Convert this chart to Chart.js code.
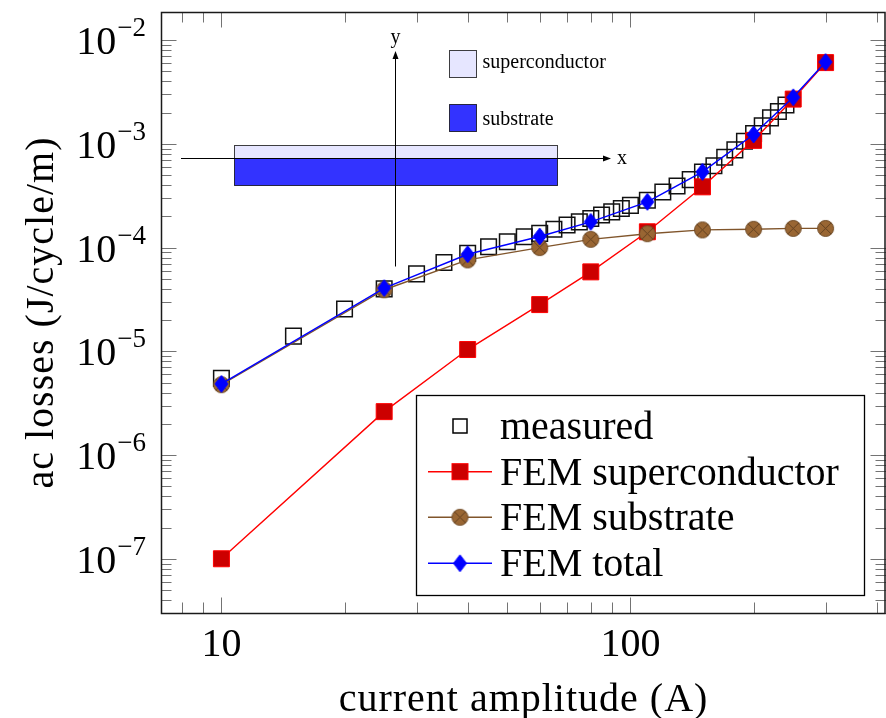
<!DOCTYPE html>
<html>
<head>
<meta charset="utf-8">
<script src="https://cdn.jsdelivr.net/npm/chart.js@4.4.0/dist/chart.umd.min.js"></script>
<style>
  html, body { margin: 0; padding: 0; background: #fff; }
  canvas { display: block; }
</style>
</head>
<body>
<canvas id="lossChart" width="886" height="718"></canvas>
<script>
// ---- data ----
const measuredX = [10, 15, 20, 25, 30, 35, 40, 45, 50, 55, 60, 65, 70, 75, 80, 85, 90, 95, 100,
                   110, 120, 130, 140, 150, 160, 170, 180, 190, 200, 210, 220, 230, 240];
const measuredY = [5.5e-6, 1.4e-5, 2.56e-5, 4.0e-5, 5.58e-5, 7.18e-5, 8.8e-5, 1.02e-4, 1.14e-4, 1.27e-4,
                   1.37e-4, 1.50e-4, 1.65e-4, 1.77e-4, 1.91e-4, 2.06e-4, 2.21e-4, 2.38e-4, 2.55e-4,
                   2.86e-4, 3.44e-4, 3.92e-4, 4.52e-4, 5.36e-4, 6.15e-4, 7.43e-4, 8.75e-4, 1.06e-3,
                   1.26e-3, 1.49e-3, 1.78e-3, 2.05e-3, 2.37e-3];
const femX      = [10, 25, 40, 60, 80, 110, 150, 200, 250, 300];
const femSupY   = [1.0e-7, 2.62e-6, 1.04e-5, 2.82e-5, 5.83e-5, 1.42e-4, 3.85e-4, 1.08e-3, 2.70e-3, 6.07e-3];
const femSubY   = [4.76e-6, 3.92e-5, 7.6e-5, 1.0e-4, 1.20e-4, 1.36e-4, 1.48e-4, 1.50e-4, 1.53e-4, 1.53e-4];
const femTotY   = [4.85e-6, 4.07e-5, 8.63e-5, 1.28e-4, 1.77e-4, 2.76e-4, 5.36e-4, 1.23e-3, 2.81e-3, 6.15e-3];
const xTickVals = [10, 100];
const yTickExps = [-7, -6, -5, -4, -3, -2];
const seriesNames = ['measured', 'FEM superconductor', 'FEM substrate', 'FEM total'];

const FONT = '"Liberation Serif", "Times New Roman", serif';
const pts = (xs, ys) => xs.map((x, i) => ({ x, y: ys[i] }));

// custom marks: crossed circle and tall diamond
function mark(w, h, draw) {
  const c = document.createElement('canvas');
  c.width = w; c.height = h;
  draw(c.getContext('2d'), w, h);
  return c;
}
const otimes = mark(19, 19, (g, w, h) => {
  const r = 8, cx = w / 2, cy = h / 2;
  g.beginPath(); g.arc(cx, cy, r, 0, Math.PI * 2);
  g.fillStyle = '#996633'; g.fill();
  g.strokeStyle = '#6e4a26'; g.lineWidth = 1; g.stroke();
  const d = r * Math.SQRT1_2;
  g.beginPath();
  g.moveTo(cx - d, cy - d); g.lineTo(cx + d, cy + d);
  g.moveTo(cx + d, cy - d); g.lineTo(cx - d, cy + d);
  g.strokeStyle = '#5c3d1e'; g.lineWidth = 0.9; g.stroke();
});
const diamond = mark(15, 19, (g, w, h) => {
  g.beginPath();
  g.moveTo(w / 2, 1); g.lineTo(w - 1, h / 2); g.lineTo(w / 2, h - 1); g.lineTo(1, h / 2);
  g.closePath();
  g.fillStyle = '#0000ff'; g.fill();
  g.strokeStyle = '#0000ff'; g.lineWidth = 1; g.stroke();
});

// inset sketch of the conductor cross-section (top-left of plot)
function drawInset(ctx) {
  ctx.save();
  ctx.lineWidth = 1;
  ctx.strokeStyle = 'rgba(0,0,0,0.75)';
  ctx.fillStyle = '#e6e6ff';
  ctx.fillRect(234.5, 145.5, 323, 13); ctx.strokeRect(234.5, 145.5, 323, 13);
  ctx.fillStyle = '#3333ff';
  ctx.fillRect(234.5, 158.5, 323, 27); ctx.strokeRect(234.5, 158.5, 323, 27);
  // swatches
  ctx.fillStyle = '#e6e6ff';
  ctx.fillRect(449.5, 50.5, 27, 27); ctx.strokeRect(449.5, 50.5, 27, 27);
  ctx.fillStyle = '#3333ff';
  ctx.fillRect(449.5, 104.5, 27, 27); ctx.strokeRect(449.5, 104.5, 27, 27);
  // axes with arrows
  ctx.strokeStyle = '#000';
  ctx.fillStyle = '#000';
  ctx.beginPath();
  ctx.moveTo(181, 158.5); ctx.lineTo(605, 158.5);
  ctx.moveTo(395.5, 266.5); ctx.lineTo(395.5, 57);
  ctx.stroke();
  ctx.beginPath();
  ctx.moveTo(611, 158.5); ctx.lineTo(603, 155.5); ctx.lineTo(603, 161.5); ctx.closePath(); ctx.fill();
  ctx.beginPath();
  ctx.moveTo(395.5, 51); ctx.lineTo(392.5, 59); ctx.lineTo(398.5, 59); ctx.closePath(); ctx.fill();
  ctx.font = '20px ' + FONT;
  ctx.textBaseline = 'alphabetic';
  ctx.textAlign = 'center';
  ctx.fillText('x', 622, 164);
  ctx.fillText('y', 395.5, 43);
  ctx.textAlign = 'left';
  ctx.fillText('superconductor', 482.5, 68);
  ctx.fillText('substrate', 482.5, 125);
  ctx.restore();
}

function drawLegend(ctx) {
  const L = 416.5, T = 395.5, R = 864.5, B = 595.5;
  const rows = [426, 471.7, 517.3, 563.3];
  ctx.save();
  ctx.fillStyle = '#fff';
  ctx.fillRect(L, T, R - L, B - T);
  ctx.strokeStyle = '#000'; ctx.lineWidth = 1.3;
  ctx.strokeRect(L, T, R - L, B - T);
  const lineCol = [null, '#ff0000', '#80552b', '#0000ff'];
  rows.forEach((y, i) => {
    if (lineCol[i]) {
      ctx.beginPath(); ctx.moveTo(428, y); ctx.lineTo(492, y);
      ctx.strokeStyle = lineCol[i]; ctx.lineWidth = 1.4; ctx.stroke();
    }
    if (i === 0) {
      ctx.strokeStyle = '#000'; ctx.lineWidth = 1.5;
      ctx.strokeRect(453, y - 7, 14, 14);
    } else if (i === 1) {
      ctx.fillStyle = '#cc0000'; ctx.fillRect(452, y - 8, 16, 16);
      ctx.strokeStyle = '#ff0000'; ctx.lineWidth = 1; ctx.strokeRect(452, y - 8, 16, 16);
    } else if (i === 2) {
      ctx.drawImage(otimes, 460 - otimes.width / 2, y - otimes.height / 2);
    } else {
      ctx.drawImage(diamond, 460 - diamond.width / 2, y - diamond.height / 2);
    }
    ctx.fillStyle = '#000';
    ctx.font = '40px ' + FONT;
    ctx.textAlign = 'left'; ctx.textBaseline = 'alphabetic';
    ctx.fillText(seriesNames[i], 500, y + 13);
  });
  ctx.restore();
}

const framePlugin = {
  id: 'frame',
  beforeDatasetsDraw(chart) { drawInset(chart.ctx); },
  afterDatasetsDraw(chart) {
    const { ctx, chartArea: a, scales: { x, y } } = chart;
    drawLegend(ctx);
    ctx.save();
    ctx.strokeStyle = 'rgba(0,0,0,0.55)';
    ctx.lineWidth = 1;
    const tick = (px, horiz, len) => {
      ctx.beginPath();
      if (horiz) {
        ctx.moveTo(a.left, px); ctx.lineTo(a.left + len, px);
        ctx.moveTo(a.right, px); ctx.lineTo(a.right - len, px);
      } else {
        ctx.moveTo(px, a.bottom); ctx.lineTo(px, a.bottom - len);
        ctx.moveTo(px, a.top); ctx.lineTo(px, a.top + len);
      }
      ctx.stroke();
    };
    // x ticks (decades 1..1000)
    for (let d = 1; d <= 100; d *= 10) {
      for (let m = 1; m <= 9; m++) {
        const v = m * d;
        if (v < x.min || v > x.max) continue;
        const px = Math.round(x.getPixelForValue(v)) + 0.5;
        tick(px, false, m === 1 ? 15.5 : 10.5);
      }
    }
    // y ticks
    for (let e = -8; e <= -2; e++) {
      for (let m = 1; m <= 9; m++) {
        const v = m * Math.pow(10, e);
        if (v < y.min || v > y.max) continue;
        const py = Math.round(y.getPixelForValue(v)) + 0.5;
        tick(py, true, m === 1 ? 15.5 : 10.5);
      }
    }
    // frame
    ctx.strokeStyle = '#1a1a1a';
    ctx.lineWidth = 1.5;
    ctx.strokeRect(a.left + 0.5, a.top + 0.5, a.right - a.left - 1.5, a.bottom - a.top);
    // tick labels
    ctx.fillStyle = '#000';
    ctx.textBaseline = 'alphabetic';
    ctx.font = '40px ' + FONT;
    ctx.textAlign = 'center';
    xTickVals.forEach(v => ctx.fillText(String(v), x.getPixelForValue(v), a.bottom + 43));
    yTickExps.forEach(e => {
      const py = y.getPixelForValue(Math.pow(10, e));
      const sup = '\u2212' + Math.abs(e);
      ctx.font = '27px ' + FONT;
      const sw = ctx.measureText(sup).width;
      ctx.textAlign = 'right';
      ctx.fillText(sup, 146, py - 4);
      ctx.font = '40px ' + FONT;
      ctx.fillText('10', 146 - sw - 1, py + 14);
    });
    // axis titles
    ctx.font = '40px ' + FONT;
    ctx.letterSpacing = '1px';
    ctx.textAlign = 'center';
    ctx.fillText('current amplitude (A)', (a.left + a.right) / 2, 711);
    ctx.save();
    ctx.translate(42, (a.top + a.bottom) / 2);
    ctx.rotate(-Math.PI / 2);
    ctx.textBaseline = 'middle';
    ctx.fillText('ac losses (J/cycle/m)', 0, 0);
    ctx.restore();
    ctx.letterSpacing = '0px';
    ctx.restore();
  }
};

new Chart(document.getElementById('lossChart'), {
  type: 'scatter',
  data: {
    datasets: [
      { label: seriesNames[0], data: pts(measuredX, measuredY), showLine: false, order: 4,
        pointStyle: 'rect', pointRadius: 11, pointBackgroundColor: 'rgba(0,0,0,0)',
        pointBorderColor: '#111', pointBorderWidth: 1.5 },
      { label: seriesNames[1], data: pts(femX, femSupY), showLine: true, order: 3,
        borderColor: '#ff0000', borderWidth: 1.4, tension: 0,
        pointStyle: 'rect', pointRadius: 11.3, pointBackgroundColor: '#cc0000',
        pointBorderColor: '#ff0000', pointBorderWidth: 1 },
      { label: seriesNames[2], data: pts(femX, femSubY), showLine: true, order: 2,
        borderColor: '#80552b', borderWidth: 1.4, tension: 0,
        pointStyle: otimes, pointRadius: 8 },
      { label: seriesNames[3], data: pts(femX, femTotY), showLine: true, order: 1,
        borderColor: '#0000ff', borderWidth: 1.5, tension: 0,
        pointStyle: diamond, pointRadius: 8 }
    ]
  },
  options: {
    responsive: false,
    animation: false,
    devicePixelRatio: 1,
    layout: { autoPadding: false, padding: { left: 161, top: 12, right: 0, bottom: 105 } },
    plugins: { legend: { display: false }, tooltip: { enabled: false } },
    scales: {
      x: { type: 'logarithmic', display: false, min: Math.pow(10, 0.8523), max: Math.pow(10, 2.6248) },
      y: { type: 'logarithmic', display: false, min: Math.pow(10, -7.479), max: Math.pow(10, -1.729) }
    }
  },
  plugins: [framePlugin]
});
</script>
</body>
</html>
